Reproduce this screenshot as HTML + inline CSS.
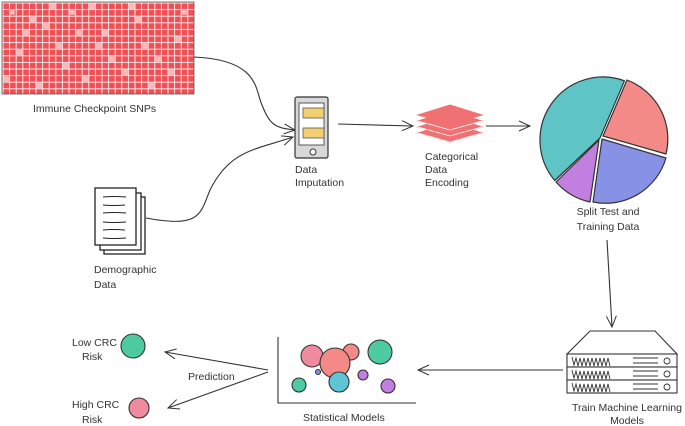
<!DOCTYPE html>
<html><head><meta charset="utf-8"><style>
html,body{margin:0;padding:0;background:#fff;}
svg{display:block;}
text{font-family:"Liberation Sans",sans-serif;font-size:10.5px;fill:#333;}
</style></head><body>
<svg width="685" height="426" viewBox="0 0 685 426" xmlns="http://www.w3.org/2000/svg">
<defs>
<pattern id="cells" x="3" y="3" width="6.6" height="6.6" patternUnits="userSpaceOnUse">
<rect x="0.5" y="0.5" width="5.6" height="5.6" fill="#ef4f55"/>
</pattern>
<marker id="ah" markerWidth="14" markerHeight="12" refX="12" refY="6" orient="auto" markerUnits="userSpaceOnUse">
<path d="M1,1 L12,6 L1,11" fill="none" stroke="#333" stroke-width="1"/>
</marker>
</defs>
<rect x="2" y="2" width="192" height="92" fill="#fbe4e4"/>
<rect x="2" y="2" width="192" height="92" fill="url(#cells)"/>
<g fill="#f9b9bb">
<rect x="29.9" y="16.7" width="5.6" height="5.6"/><rect x="43.1" y="23.3" width="5.6" height="5.6"/>
<rect x="69.5" y="9.1" width="5.6" height="5.6"/><rect x="89.3" y="3.5" width="5.6" height="5.6"/>
<rect x="16.7" y="49.7" width="5.6" height="5.6"/><rect x="56.3" y="43.1" width="5.6" height="5.6"/>
<rect x="102.5" y="29.9" width="5.6" height="5.6"/><rect x="135.5" y="16.7" width="5.6" height="5.6"/>
<rect x="155.3" y="56.3" width="5.6" height="5.6"/><rect x="175.1" y="36.5" width="5.6" height="5.6"/>
<rect x="122.3" y="69.5" width="5.6" height="5.6"/><rect x="82.7" y="76.1" width="5.6" height="5.6"/>
<rect x="36.5" y="82.7" width="5.6" height="5.6"/><rect x="3.5" y="76.1" width="5.6" height="5.6"/>
<rect x="148.7" y="82.7" width="5.6" height="5.6"/><rect x="181.7" y="9.1" width="5.6" height="5.6"/>
<rect x="109.1" y="56.3" width="5.6" height="5.6"/><rect x="62.9" y="62.9" width="5.6" height="5.6"/>
<rect x="23.3" y="29.9" width="5.6" height="5.6"/><rect x="142.1" y="43.1" width="5.6" height="5.6"/>
<rect x="95.9" y="43.1" width="5.6" height="5.6"/><rect x="168.5" y="69.5" width="5.6" height="5.6"/>
<rect x="49.7" y="3.5" width="5.6" height="5.6"/><rect x="128.9" y="3.5" width="5.6" height="5.6"/>
<rect x="76.1" y="29.9" width="5.6" height="5.6"/><rect x="9.1" y="9.1" width="5.6" height="5.6"/>
</g>
<rect x="2" y="2" width="192" height="92" fill="none" stroke="#555" stroke-width="0.8"/>
<text x="33" y="112">Immune Checkpoint SNPs</text>

<path d="M194,57 C260,60 255,90 262,105 C270,125 275,128 295,130" fill="none" stroke="#333" stroke-width="1.1" marker-end="url(#ah)"/>
<path d="M146,218 C200,228 200,215 210,190 C230,150 255,150 293,137" fill="none" stroke="#333" stroke-width="1.1" marker-end="url(#ah)"/>

<rect x="295" y="97" width="33" height="61" rx="2" fill="#d8d8d8" stroke="#333" stroke-width="1.2"/>
<rect x="299" y="103" width="25" height="42" fill="#fff" stroke="#333" stroke-width="0.8"/>
<rect x="303" y="108" width="21" height="10" fill="#f3cf72" stroke="#555" stroke-width="0.8"/>
<rect x="303" y="128" width="21" height="10" fill="#f3cf72" stroke="#555" stroke-width="0.8"/>
<circle cx="313" cy="152" r="3" fill="#fff" stroke="#333"/>
<text x="295" y="173">Data</text><text x="295" y="186">Imputation</text>

<line x1="338" y1="124" x2="413" y2="126" stroke="#333" stroke-width="1.1" marker-end="url(#ah)"/>
<g fill="#f07173" stroke="#f07173">
<path d="M418,133 L450,123 L482,133 L450,142 Z"/>
<path d="M418,127 L450,117 L482,127 L450,136 Z"/>
<path d="M418,121 L450,111 L482,121 L450,130 Z"/>
<path d="M418,115 L450,105 L482,115 L450,124 Z"/>
</g>
<g stroke="#fff" stroke-width="0.8" fill="none">
<path d="M418,121 L450,130 L482,121"/><path d="M418,127 L450,136 L482,127"/><path d="M418,133 L450,142 L482,133"/>
</g>
<text x="425" y="160">Categorical</text><text x="425" y="173">Data</text><text x="425" y="186">Encoding</text>
<line x1="486" y1="126" x2="530" y2="126" stroke="#333" stroke-width="1.1" marker-end="url(#ah)"/>

<g stroke="#333" stroke-width="1.2" stroke-linejoin="round">
<path d="M600,138 L554.7,180.5 A63,63 0 0 1 624.5,80.8 Z" fill="#5ec4c6"/>
<path d="M603,136 L627,80 A63,63 0 0 1 666,154 Z" fill="#f48a87"/>
<path d="M602,139 L666,158 A63,63 0 0 1 593,202 Z" fill="#8792e6"/>
<path d="M599,140 L590,202 A63,63 0 0 1 556,182 Z" fill="#c27fe0"/>
</g>
<text x="608" y="215" text-anchor="middle">Split Test and</text>
<text x="608" y="230" text-anchor="middle">Training Data</text>
<line x1="607" y1="240" x2="612" y2="327" stroke="#333" stroke-width="1.1" marker-end="url(#ah)"/>

<g stroke="#333" stroke-width="1.1" fill="#fff">
<path d="M567,354 L590,331 L655,331 L677,354 Z"/>
<rect x="567" y="354" width="110" height="13"/>
<rect x="567" y="367" width="110" height="13"/>
<rect x="567" y="380" width="110" height="13"/>
</g>
<g stroke="#333" stroke-width="0.9" fill="none">
<path d="M572,357 l2,8 l2,-7 l2,8 l2,-8 l2,8 l2,-8 l2,8 l2,-8 l2,8 l2,-8 l2,8 l2,-8 l2,8 l2,-8 l2,8 l2,-8 l2,8 l2,-8 l2,8"/>
<path d="M572,370 l2,8 l2,-7 l2,8 l2,-8 l2,8 l2,-8 l2,8 l2,-8 l2,8 l2,-8 l2,8 l2,-8 l2,8 l2,-8 l2,8 l2,-8 l2,8 l2,-8 l2,8"/>
<path d="M572,383 l2,8 l2,-7 l2,8 l2,-8 l2,8 l2,-8 l2,8 l2,-8 l2,8 l2,-8 l2,8 l2,-8 l2,8 l2,-8 l2,8 l2,-8 l2,8 l2,-8 l2,8"/>
<path d="M633,358 h25 M633,363 h25 M633,371 h25 M633,376 h25 M633,384 h25 M633,389 h25"/>
<circle cx="667" cy="361" r="3"/><circle cx="667" cy="374" r="3"/><circle cx="667" cy="387" r="3"/>
</g>
<text x="627" y="411" text-anchor="middle">Train Machine Learning</text>
<text x="627" y="424" text-anchor="middle">Models</text>
<line x1="563" y1="370" x2="418" y2="370" stroke="#333" stroke-width="1.1" marker-end="url(#ah)"/>

<path d="M278,337 L278,403 L416,403" fill="none" stroke="#333" stroke-width="1.1"/>
<g stroke="#333" stroke-width="1.1">
<circle cx="312" cy="356" r="11" fill="#f08a9e"/>
<circle cx="351" cy="352" r="8" fill="#f48a87"/>
<circle cx="335" cy="363" r="15" fill="#f48a87"/>
<circle cx="380" cy="352" r="12" fill="#4ecaa0"/>
<circle cx="318" cy="372" r="2.5" fill="#8792e6"/>
<circle cx="363" cy="375" r="5" fill="#c27fe0"/>
<circle cx="299" cy="385" r="7" fill="#4ecaa0"/>
<circle cx="339" cy="382" r="10" fill="#5ec4d6"/>
<circle cx="388" cy="386" r="7" fill="#c27fe0"/>
</g>
<text x="303" y="421">Statistical Models</text>

<line x1="268" y1="370" x2="165" y2="352" stroke="#333" stroke-width="1.1" marker-end="url(#ah)"/>
<line x1="268" y1="372" x2="168" y2="408" stroke="#333" stroke-width="1.1" marker-end="url(#ah)"/>
<text x="188" y="380">Prediction</text>

<circle cx="133" cy="346" r="12" fill="#4ecaa0" stroke="#333" stroke-width="1.1"/>
<text x="72" y="346">Low CRC</text><text x="82" y="360">Risk</text>
<circle cx="139" cy="408" r="10" fill="#f08a9e" stroke="#333" stroke-width="1.1"/>
<text x="72" y="408">High CRC</text><text x="82" y="423">Risk</text>

<g stroke="#222" stroke-width="1.3" fill="#fff">
<rect x="104" y="197" width="41" height="57"/>
<rect x="100" y="193" width="41" height="57"/>
<rect x="95" y="188" width="41" height="57"/>
</g>
<g stroke="#222" stroke-width="1" fill="none">
<path d="M103,197 q10,-1 23,0 M103,205 q10,1 22,0 M103,213 q10,-1 23,0 M103,222 q10,1 23,0 M103,230 q10,-1 22,0 M103,238 q10,1 23,0"/>
</g>
<text x="94" y="273">Demographic</text><text x="94" y="288">Data</text>
</svg>
</body></html>
